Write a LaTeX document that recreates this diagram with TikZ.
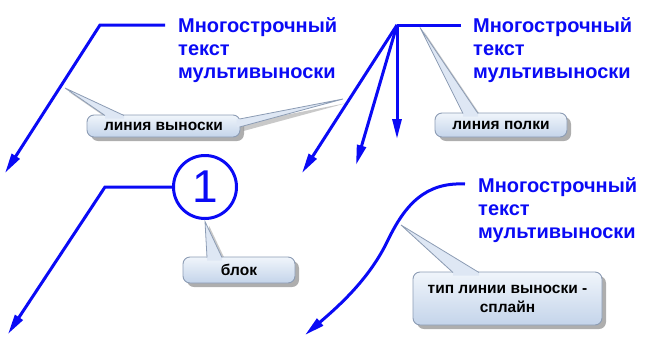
\documentclass[tikz,border=0pt]{standalone}
\usepackage{fontspec}
\setmainfont{Liberation Sans}
\usetikzlibrary{arrows.meta,shadows,calc}
\definecolor{lblue}{RGB}{10,10,245}
\definecolor{cbtop}{RGB}{240,245,251}
\definecolor{cbbot}{RGB}{196,212,234}
\definecolor{cbedge}{RGB}{140,156,180}
\definecolor{cbptr}{RGB}{222,231,244}
\newcommand\callptr[5]{%
  \fill[ptrshade] ([shift={(4,4)}]#1) -- ([shift={(4,4)}]#3) -- ([shift={(4,4)}]#2) -- cycle;
}
\newcommand\callptrtop[4]{%
  \fill[cbptr] (#1) -- (#3) -- (#2) -- ($(#2)+#4$) -- ($(#1)+#4$) -- cycle;
  \draw[ptredge] (#1) -- (#3) -- (#2);
}
\begin{document}
\begin{tikzpicture}[x=1pt,y=-1pt,
  leader/.style={draw=lblue, line width=3pt, line join=miter},
  arr/.style={-{Triangle[length=20pt,width=9pt]}},
  mtext/.style={text=lblue, font=\bfseries\fontsize{20}{23}\selectfont, align=left, anchor=base west, inner sep=0pt},
  callbox/.style={draw=cbedge, line width=0.9pt, rounded corners=7pt, top color=cbtop, bottom color=cbbot,
    font=\bfseries\fontsize{15.5}{19}\selectfont, align=center, inner sep=0pt,
    drop shadow={shadow xshift=4pt, shadow yshift=-4pt, opacity=0.45, fill=black!70}},
  ptredge/.style={draw=cbedge, line width=0.8pt},
  ptrshade/.style={fill=black!70, opacity=0.3}]
\useasboundingbox (0,0) rectangle (649,341);

% multileader texts (anchor = baseline of the last line)
\node[mtext] (t1) at (178,78) {Многострочный\\текст\\мультивыноски};
\node[mtext] (t2) at (473,78) {Многострочный\\текст\\мультивыноски};
\node[mtext] (t3) at (478,238) {Многострочный\\текст\\мультивыноски};

% leader 1
\coordinate (h1) at (165,25);
\coordinate (k1) at (100,25);
\coordinate (a1) at (5,173);
\draw[leader, arr] (h1) -- (k1) -- (a1);

% leader 2 (several arrows)
\coordinate (h2) at (461,25);
\coordinate (k2) at (397,25);
\coordinate (a2a) at (302,173);
\coordinate (a2b) at (356,165);
\coordinate (a2c) at (397,139);
\draw[leader] (h2) -- (k2);
\draw[leader, arr] (k2) -- (a2a);
\draw[leader, arr] (k2) -- (a2b);
\draw[leader, arr] (k2) -- (a2c);

% block leader
\node[draw=lblue, line width=3pt, circle, minimum size=63pt, inner sep=0pt,
  font=\fontsize{46}{46}\selectfont, text=lblue] (c1) at (205,187) {1};
\coordinate (k3) at (105,187);
\coordinate (a3) at (8,334);
\draw[leader, arr] (c1.west) -- (k3) -- (a3);

% spline leader
\coordinate (h4) at (465,184);
\coordinate (m4) at (388,240);
\coordinate (a4) at (305,335);
\draw[leader, arr] (h4) .. controls (425,182) and (405,205) .. (m4)
  .. controls (370,278) and (340,305) .. (a4);

% callout: линия выноски
\coordinate (p1a) at (105,115.5);
\coordinate (p1b) at (124,115.5);
\coordinate (p1t) at (65,88);
\coordinate (p1c) at (239.5,119);
\coordinate (p1d) at (239.5,127);
\coordinate (p1u) at (343,99);
\callptr{p1a}{p1b}{p1t}{}{}
\callptr{p1c}{p1d}{p1u}{}{}
\node[callbox, minimum width=153pt, minimum height=22pt] (b1) at (163.5,126) {линия выноски};
\callptrtop{p1a}{p1b}{p1t}{(0,3)}
\callptrtop{p1c}{p1d}{p1u}{(-3,0)}

% callout: линия полки
\coordinate (p2a) at (463,113.5);
\coordinate (p2b) at (478,113.5);
\coordinate (p2t) at (420,27.5);
\callptr{p2a}{p2b}{p2t}{}{}
\node[callbox, minimum width=132pt, minimum height=24pt] (b2) at (501,125) {линия полки};
\callptrtop{p2a}{p2b}{p2t}{(0,3)}

% callout: блок
\coordinate (p3a) at (207,257.5);
\coordinate (p3b) at (222,257.5);
\coordinate (p3t) at ($(c1.south)+(0,1.5)$);
\callptr{p3a}{p3b}{p3t}{}{}
\node[callbox, minimum width=112pt, minimum height=26pt] (b3) at (239,270) {блок};
\callptrtop{p3a}{p3b}{p3t}{(0,3)}

% callout: тип линии выноски - сплайн
\coordinate (p4a) at (453,272.5);
\coordinate (p4b) at (479,272.5);
\coordinate (p4t) at (401,225);
\callptr{p4a}{p4b}{p4t}{}{}
\node[callbox, minimum width=189pt, minimum height=53pt] (b4) at (507.5,298.5) {тип линии выноски -\\сплайн};
\callptrtop{p4a}{p4b}{p4t}{(0,3)}
\end{tikzpicture}
\end{document}
